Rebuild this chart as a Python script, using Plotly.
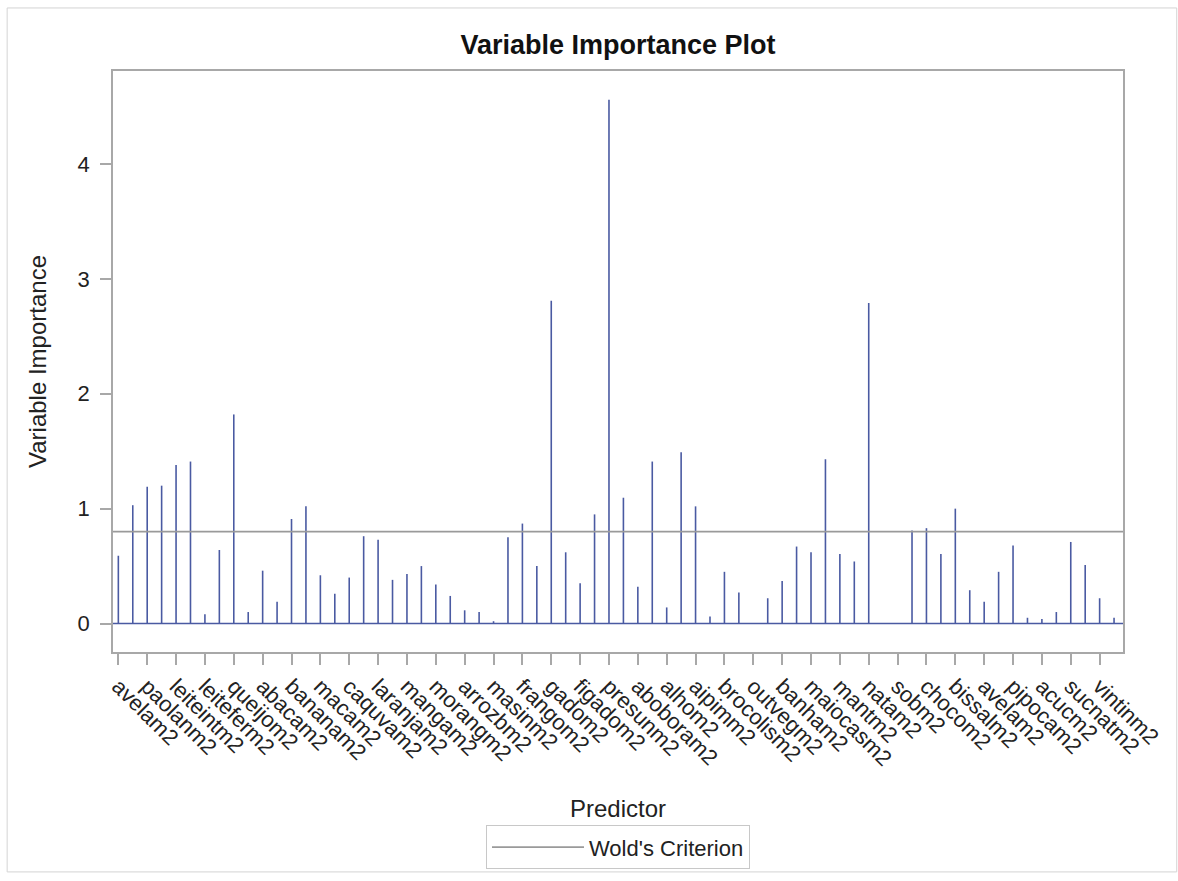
import plotly.graph_objects as go

# Variable importance (VIP) per predictor, in model order
importance = [
    0.59, 1.03, 1.19, 1.20, 1.38, 1.41, 0.08, 0.64, 1.82, 0.10,
    0.46, 0.19, 0.91, 1.02, 0.42, 0.26, 0.40, 0.76, 0.73, 0.38,
    0.43, 0.50, 0.34, 0.24, 0.115, 0.10, 0.02, 0.75, 0.87, 0.50,
    2.81, 0.62, 0.35, 0.95, 4.56, 1.095, 0.32, 1.41, 0.14, 1.49,
    1.02, 0.06, 0.45, 0.27, 0.0, 0.22, 0.37, 0.67, 0.62, 1.43,
    0.605, 0.54, 2.79, 0.0, 0.0, 0.81, 0.83, 0.605, 1.00, 0.29,
    0.19, 0.45, 0.68, 0.05, 0.04, 0.10, 0.71, 0.51, 0.22, 0.05,
]

# Axis labels (every second predictor is labelled on the axis)
predictor_labels = [
    "avelam2", "paolanm2", "leiteintm2", "leiteferm2", "queijom2", "abacam2",
    "bananam2", "macam2", "caquvam2", "laranjam2", "mangam2", "morangm2",
    "arrozbm2", "masinm2", "frangom2", "gadom2", "figadom2", "presunm2",
    "aboboram2", "alhom2", "aipimm2", "brocolism2", "outvegm2", "banham2",
    "maiocasm2", "mantm2", "natam2", "sobm2", "chocom2", "bissalm2",
    "avelam2", "pipocam2", "acucm2", "sucnatm2", "vintinm2",
]

WOLD_CRITERION = 0.8
y_ticks = [0, 1, 2, 3, 4]

NEEDLE = "#4a5aa2"
FRAME = "#a8a8a8"
TEXT = "#222222"
FONT = "Liberation Sans, Arial, sans-serif"

positions = list(range(len(importance)))

# Needle segments from the baseline up to each importance value
nx, ny = [], []
for p, v in zip(positions, importance):
    nx += [p, p, None]
    ny += [0, v, None]

fig = go.Figure()
fig.add_trace(go.Scatter(
    x=nx, y=ny, mode="lines",
    line=dict(color=NEEDLE, width=1.6),
    showlegend=False, hoverinfo="skip",
))
# Legend entry for the reference line
fig.add_trace(go.Scatter(
    x=[None], y=[None], mode="lines",
    line=dict(color="#9a9a9a", width=1.6),
    name="Wold's Criterion",
))

# Baseline and Wold's criterion across the full plot width
fig.add_shape(type="line", xref="x domain", yref="y", x0=0, x1=1,
              y0=0, y1=0, line=dict(color=NEEDLE, width=1.6))
fig.add_shape(type="line", xref="x domain", yref="y", x0=0, x1=1,
              y0=WOLD_CRITERION, y1=WOLD_CRITERION,
              line=dict(color="#9a9a9a", width=1.6))

# Outer graph border
fig.add_shape(type="rect", xref="paper", yref="paper",
              x0=-0.1048, x1=1.0532, y0=-0.3785, y1=1.1085,
              line=dict(color="#d4d4d4", width=1), fillcolor="rgba(0,0,0,0)")

fig.update_layout(
    width=1178, height=881,
    margin=dict(l=113, r=55, t=71, b=223),
    paper_bgcolor="white", plot_bgcolor="white",
    font=dict(family=FONT, color=TEXT, size=22),
    title=dict(
        text="<b>Variable Importance Plot</b>",
        font=dict(family=FONT, size=27, color="#111111"),
        x=0.5, xref="paper", xanchor="center",
        y=1 - 45 / 881, yref="container", yanchor="middle",
    ),
    showlegend=True,
    legend=dict(
        orientation="h", x=0.5, xanchor="center", y=-0.2984, yanchor="top",
        bordercolor="#c8c8c8", borderwidth=1, bgcolor="white",
        font=dict(family=FONT, size=22, color=TEXT),
        itemwidth=92,
    ),
    xaxis=dict(
        range=[-0.37, 69.62],
        tickmode="array",
        tickvals=positions[::2],
        ticktext=predictor_labels,
        tickangle=45,
        tickfont=dict(family=FONT, size=22, color=TEXT),
        ticks="outside", ticklen=11, tickcolor=FRAME, tickwidth=1.5,
        showline=True, linecolor=FRAME, linewidth=1.5, mirror=True,
        showgrid=False, zeroline=False,
        title=dict(text="Predictor", font=dict(family=FONT, size=24, color=TEXT),
                   standoff=30),
        automargin=False,
    ),
    yaxis=dict(
        range=[-0.248, 4.81],
        tickmode="array", tickvals=y_ticks,
        tickfont=dict(family=FONT, size=22, color=TEXT),
        ticks="outside", ticklen=11, tickcolor=FRAME, tickwidth=1.5,
        ticklabelstandoff=6,
        showline=True, linecolor=FRAME, linewidth=1.5, mirror=True,
        showgrid=False, zeroline=False,
        title=dict(text="Variable Importance", font=dict(family=FONT, size=24, color=TEXT),
                   standoff=24),
        automargin=False,
    ),
)

fig.write_html("out.html")
